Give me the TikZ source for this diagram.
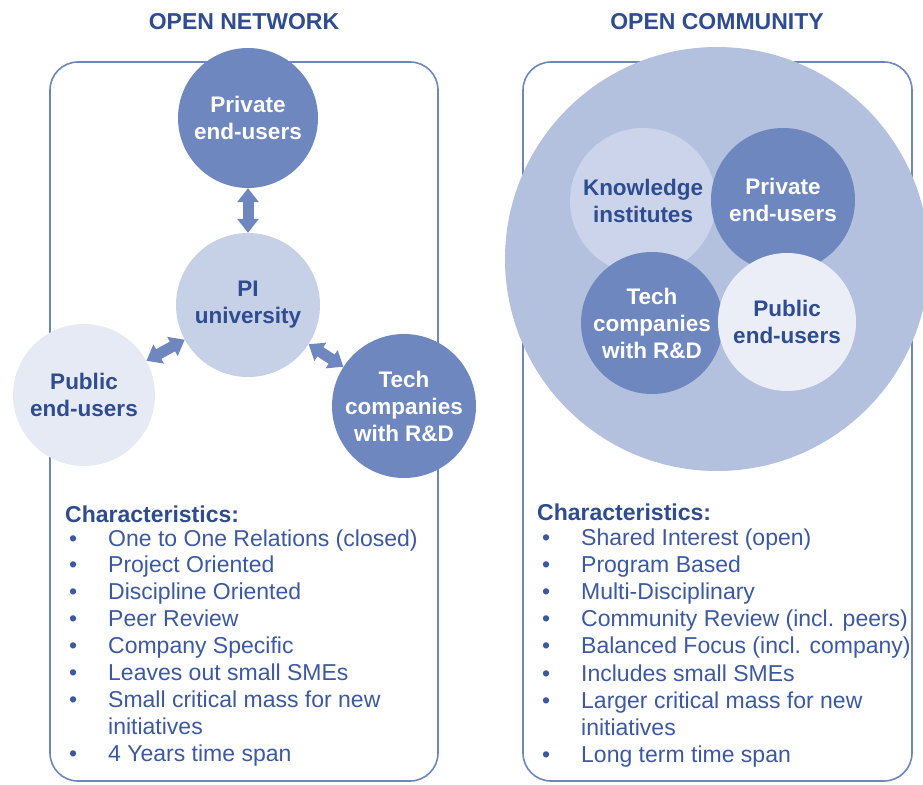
\documentclass[tikz,border=0pt]{standalone}
\usepackage{fontspec}
\setmainfont{Liberation Sans}
\usetikzlibrary{arrows.meta}

\definecolor{darkdisc}{RGB}{110,136,191}
\definecolor{midisc}{RGB}{198,208,230}
\definecolor{palediscl}{RGB}{230,234,244}
\definecolor{bigdisc}{RGB}{180,193,222}
\definecolor{knowdisc}{RGB}{203,212,234}
\definecolor{framecol}{RGB}{109,134,189}
\definecolor{titlecol}{RGB}{46,76,143}
\definecolor{listcol}{RGB}{60,88,160}

\newcommand\bul{\llap{\textbullet\hspace{31pt}}}

\begin{document}
\begin{tikzpicture}[x=1pt,y=-1pt,
    panel/.style = {
      draw = framecol,
      line width = 1.6pt,
      rounded corners = 28pt
    },
    disc/.style = {
      circle,
      inner sep = 0pt,
      align = center,
      font = \fontsize{22.5}{27}\selectfont\bfseries
    },
    darkdot/.style = {disc, fill = darkdisc, text = white},
    middot/.style = {disc, fill = midisc, text = titlecol},
    palexdot/.style = {disc, fill = palediscl, text = titlecol},
    headline/.style = {font = \fontsize{23}{27}\selectfont\bfseries, text = titlecol},
    itemline/.style = {anchor = base west, inner sep = 0pt,
      font = \fontsize{23}{27}\selectfont, text = listcol},
    dblarrow/.style = {
      draw = darkdisc,
      line width = 11pt,
      {Triangle[width=21pt,length=14pt]}-{Triangle[width=21pt,length=14pt]}
    }
  ]
  \useasboundingbox (0,0) rectangle (923,784);

  \draw[panel] (50,62) rectangle (438,781);
  \draw[panel] (523,62) rectangle (912,781);

  \node[headline] (nettitle) at (244,22) {OPEN NETWORK};
  \node[headline] (comtitle) at (717,22) {OPEN COMMUNITY};

  % open network
  \node[darkdot, minimum size=140pt]  (priv) at (248,118) {Private\\end-users};
  \node[middot, minimum size=144pt]   (pi)   at (248,305) {PI\\university};
  \node[palexdot, minimum size=142pt] (pub)  at (84,395)  {Public\\end-users};
  \node[darkdot, minimum size=144pt]  (tech) at (404,406) {Tech\\companies\\with R\&D};

  \draw[dblarrow] (priv) -- (pi);
  \draw[dblarrow] (pi) -- (pub);
  \draw[dblarrow] (pi) -- (tech);

  % open community
  \node[disc, fill=bigdisc, minimum size=424pt] (comm) at (717,259) {};
  \node[disc, fill=knowdisc, text=titlecol, minimum size=146pt] (know) at (643,201) {Knowledge\\institutes};
  \node[darkdot, minimum size=144pt]  (cpriv) at (783,200) {Private\\end-users};
  \node[darkdot, minimum size=142pt]  (ctech) at (652,323) {Tech\\companies\\with R\&D};
  \node[palexdot, fill=palediscl!80!white, minimum size=138pt] (cpub) at (787,322) {Public\\end-users};

  % characteristics
  \node[itemline, font=\fontsize{23}{27}\selectfont\bfseries, text=titlecol] (netchar) at (65,522) {Characteristics:};
  \foreach \txt [count=\k from 0] in {\bul One to One Relations (closed), \bul Project Oriented,
      \bul Discipline Oriented, \bul Peer Review, \bul Company Specific,
      \bul Leaves out small SMEs, \bul Small critical mass for new, initiatives,
      \bul 4 Years time span}
    \node[itemline] (net\k) at (108,546+26.9*\k) {\txt};

  \node[itemline, font=\fontsize{23}{27}\selectfont\bfseries, text=titlecol] (comchar) at (537,520) {Characteristics:};
  \foreach \txt [count=\k from 0] in {\bul Shared Interest (open), \bul Program Based,
      \bul Multi-Disciplinary, \bul Community Review (incl. peers),
      \bul Balanced Focus (incl. company), \bul Includes small SMEs,
      \bul Larger critical mass for new, initiatives, \bul Long term time span}
    \node[itemline] (com\k) at (581,545+27.2*\k) {\txt};
\end{tikzpicture}
\end{document}
